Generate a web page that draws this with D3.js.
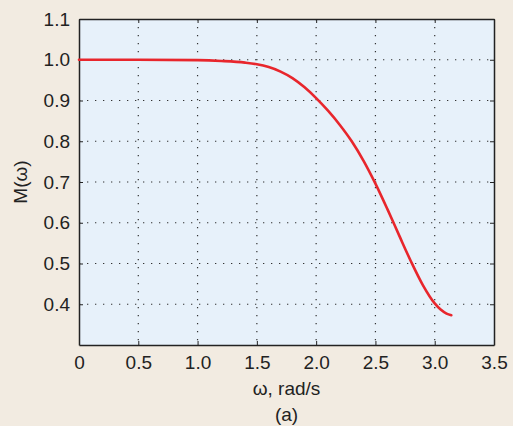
<!DOCTYPE html>
<html>
<head>
<meta charset="utf-8">
<script src="https://cdn.jsdelivr.net/npm/d3@7"></script>
<style>
  body { margin: 0; background: #f2ebe1; }
  text { font-family: "Liberation Sans", Arial, sans-serif; fill: #222; }
</style>
</head>
<body>
<div id="chart"></div>
<script>
// frequency (rad/s) and magnitude
var omega = [0, 0.5, 1.0, 1.2, 1.4, 1.5, 1.6, 1.7, 1.8, 1.9, 2.0, 2.1, 2.2, 2.3, 2.4, 2.5,
             2.6, 2.7, 2.8, 2.9, 3.0, 3.05, 3.1, 3.14];
var mag = [1.0, 1.0, 0.999, 0.997, 0.993, 0.989, 0.982, 0.971, 0.955, 0.933, 0.906, 0.875,
           0.840, 0.800, 0.752, 0.696, 0.634, 0.569, 0.505, 0.447, 0.402, 0.387, 0.377, 0.373];
var xTicks = [0, 0.5, 1.0, 1.5, 2.0, 2.5, 3.0, 3.5];
var yTicks = [0.4, 0.5, 0.6, 0.7, 0.8, 0.9, 1.0, 1.1];

var data = omega.map(function(w, i) { return { w: w, m: mag[i] }; });

var margin = { left: 79, right: 19, top: 19, bottom: 81 };
var width = 513 - margin.left - margin.right,
    height = 426 - margin.top - margin.bottom;

var svg = d3.select("#chart")
    .append("svg")
        .attr("width", 513)
        .attr("height", 426)
        .append("g")
          .attr("transform", "translate(" + margin.left + "," + margin.top + ")");

var x = d3.scaleLinear().domain([0, 3.5]).range([0, width]);
var y = d3.scaleLinear().domain([0.3, 1.1]).range([height, 0]);

// plot area
svg.append("rect")
    .attr("width", width)
    .attr("height", height)
    .attr("fill", "#e7f1fa");

// grid
svg.append("g").selectAll("line")
    .data(xTicks.slice(1, -1))
    .enter().append("line")
      .attr("x1", function(d) { return x(d); })
      .attr("x2", function(d) { return x(d); })
      .attr("y1", 0).attr("y2", height)
      .attr("stroke", "#333").attr("stroke-width", 1.2)
      .attr("stroke-dasharray", "1.3,6.7");

svg.append("g").selectAll("line")
    .data(yTicks.slice(0, -1))
    .enter().append("line")
      .attr("y1", function(d) { return y(d); })
      .attr("y2", function(d) { return y(d); })
      .attr("x1", 0).attr("x2", width)
      .attr("stroke", "#333").attr("stroke-width", 1.2)
      .attr("stroke-dasharray", "1.3,6.7");

// axes
var xAxisCall = d3.axisBottom(x).tickValues(xTicks).tickSizeInner(-4).tickSizeOuter(0)
    .tickPadding(11).tickFormat(function(d) { return d === 0 ? "0" : d3.format(".1f")(d); });
var yAxisCall = d3.axisLeft(y).tickValues(yTicks).tickSizeInner(-4).tickSizeOuter(0)
    .tickPadding(9).tickFormat(d3.format(".1f"));

var xAxisGroup = svg.append("g")
    .attr("transform", "translate(0," + height + ")")
    .call(xAxisCall);
var yAxisGroup = svg.append("g").call(yAxisCall);

svg.append("g").call(d3.axisTop(x).tickValues(xTicks).tickSizeInner(-4).tickSizeOuter(0).tickFormat(""));
svg.append("g").attr("transform", "translate(" + width + ",0)")
    .call(d3.axisRight(y).tickValues(yTicks).tickSizeInner(-4).tickSizeOuter(0).tickFormat(""));

svg.selectAll(".domain").attr("stroke", "#222").attr("stroke-width", 1.5);
svg.selectAll(".tick line").attr("stroke", "#222").attr("stroke-width", 1);
svg.selectAll(".tick text").attr("font-size", "19px").attr("fill", "#222")
    .style("font-family", "'Liberation Sans', Arial, sans-serif");

// curve
var valueline = d3.line()
    .x(function(d) { return x(d.w); })
    .y(function(d) { return y(d.m); })
    .curve(d3.curveMonotoneX);

svg.append("path")
    .datum(data)
    .attr("fill", "none")
    .attr("stroke", "#e8262c")
    .attr("stroke-width", 2.6)
    .attr("stroke-linecap", "round")
    .attr("d", valueline);

// labels
svg.append("text")
    .attr("x", width / 2)
    .attr("y", height + 50)
    .attr("font-size", "19px")
    .attr("text-anchor", "middle")
    .text("ω, rad/s");

svg.append("text")
    .attr("x", width / 2)
    .attr("y", height + 76)
    .attr("font-size", "19px")
    .attr("text-anchor", "middle")
    .text("(a)");

svg.append("text")
    .attr("transform", "rotate(-90)")
    .attr("x", -(y(0.7)))
    .attr("y", -52)
    .attr("font-size", "19px")
    .attr("text-anchor", "middle")
    .text("M(ω)");
</script>
</body>
</html>
